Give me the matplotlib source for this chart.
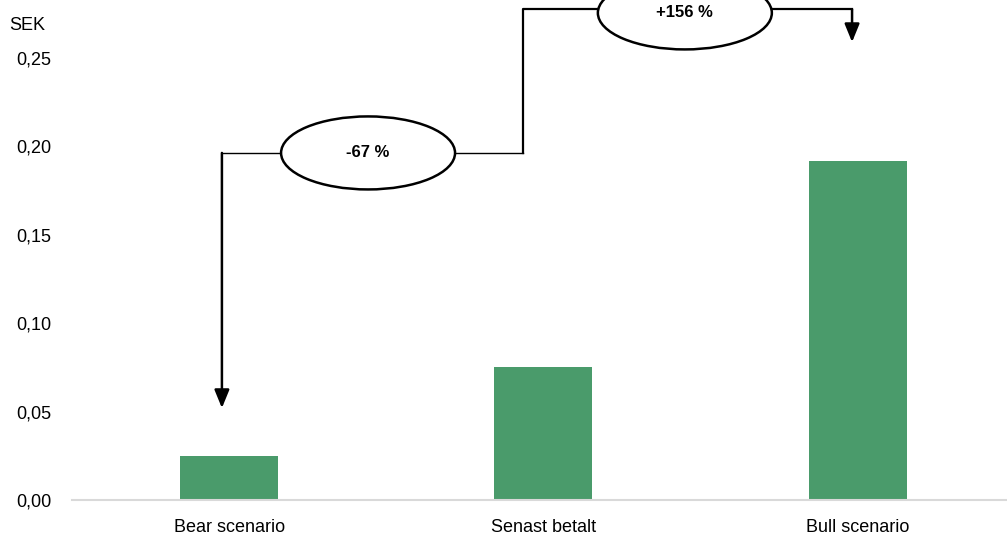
import matplotlib.pyplot as plt
from matplotlib.patches import Ellipse

# Data
categories = ["Bear scenario", "Senast betalt", "Bull scenario"]
values = [0.025, 0.075, 0.192]
yticks = [0.00, 0.05, 0.10, 0.15, 0.20, 0.25]
ytick_labels = ["0,00", "0,05", "0,10", "0,15", "0,20", "0,25"]
changes = ["-67 %", "+156 %"]

plt.rcParams['font.family'] = ['Liberation Sans Narrow', 'Liberation Sans', 'DejaVu Sans']

fig = plt.figure(figsize=(10.07, 5.36), dpi=100)
ax = fig.add_axes([0.0715, 0.0672, 0.9285, 0.8246])

x = list(range(len(categories)))
ax.bar(x, values, width=0.312, color="#4a9b6b", zorder=2)

ax.set_xlim(-0.5, 2.475)
ax.set_ylim(0, 0.25)
ax.set_yticks(yticks)
ax.set_yticklabels(ytick_labels, fontsize=13)
ax.set_xticks(x)
ax.set_xticklabels(categories, fontsize=13)
ax.tick_params(axis="y", length=0, pad=15)
ax.tick_params(axis="x", length=0, pad=14)
for side in ["left", "right", "top"]:
    ax.spines[side].set_visible(False)
ax.spines["bottom"].set_color("#d9d9d9")
ax.spines["bottom"].set_linewidth(1.5)

fig.text(0.009, 0.953, "SEK", fontsize=13, ha="left", va="center")

# connector lines for the change annotations
y_mid = 0.1963
y_top = 0.2775
x_bear = -0.023
x_split = 0.935
x_bull = 1.982
e_w, e_h = 0.5536, 0.0413
e1 = (0.442, y_mid)
e2 = (1.450, y_top - 0.002)

ax.plot([x_split, e1[0] + e_w / 2], [y_mid, y_mid], color="black", lw=1.0, clip_on=False)
ax.plot([e1[0] - e_w / 2, x_bear], [y_mid, y_mid], color="black", lw=1.0, clip_on=False)
ax.annotate("", xy=(x_bear, 0.052), xytext=(x_bear, y_mid),
            arrowprops=dict(arrowstyle="-|>,head_length=1.1,head_width=0.45",
                            color="black", lw=1.8, shrinkA=0, shrinkB=0),
            annotation_clip=False)

ax.plot([x_split, x_split, e2[0] - e_w / 2], [y_mid, y_top, y_top], color="black", lw=1.6, clip_on=False)
ax.plot([e2[0] + e_w / 2, x_bull], [y_top, y_top], color="black", lw=1.6, clip_on=False)
ax.annotate("", xy=(x_bull, 0.259), xytext=(x_bull, y_top),
            arrowprops=dict(arrowstyle="-|>,head_length=1.1,head_width=0.45",
                            color="black", lw=1.8, shrinkA=0, shrinkB=0),
            annotation_clip=False)

for (cx, cy), label in zip([e1, e2], changes):
    ax.add_patch(Ellipse((cx, cy), e_w, e_h, facecolor="white", edgecolor="black",
                         lw=1.8, clip_on=False, zorder=3))
    ax.text(cx, cy, label, ha="center", va="center", fontsize=12,
            fontweight="bold", family=["Liberation Sans", "DejaVu Sans"], zorder=4)

fig.savefig("out.png", dpi=100)
